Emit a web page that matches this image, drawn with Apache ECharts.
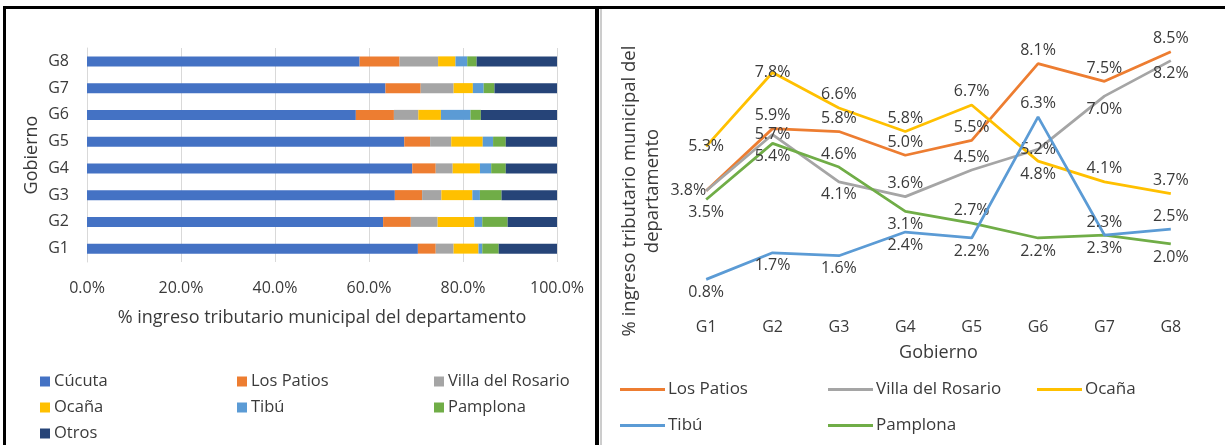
<!DOCTYPE html>
<html>
<head>
<meta charset="utf-8">
<script src="https://cdn.jsdelivr.net/npm/echarts@6/dist/echarts.min.js"></script>
<style>
  html, body { margin: 0; padding: 0; background: #fff; }
  #chart { width: 1225px; height: 445px; }
</style>
</head>
<body>
<div id="chart"></div>
<script>
// Governments (periods) on both panels
const categories = ['G1', 'G2', 'G3', 'G4', 'G5', 'G6', 'G7', 'G8'];

// Share of the department's municipal tax revenue, in percent
const cucuta       = [70.4, 63.0, 65.5, 69.2, 67.5, 57.2, 63.5, 58.0];
const losPatios    = [3.8, 5.9, 5.8, 5.0, 5.5, 8.1, 7.5, 8.5];
const villaRosario = [3.8, 5.7, 4.1, 3.6, 4.5, 5.2, 7.0, 8.2];
const ocana        = [5.3, 7.8, 6.6, 5.8, 6.7, 4.8, 4.1, 3.7];
const tibu         = [0.8, 1.7, 1.6, 2.4, 2.2, 6.3, 2.3, 2.5];
const pamplona     = [3.5, 5.4, 4.6, 3.1, 2.7, 2.2, 2.3, 2.0];
const otros        = [12.4, 10.5, 11.8, 10.9, 10.9, 16.2, 13.3, 17.1];

// Tick values of the horizontal percentage axis
const pctTicks = [0, 20, 40, 60, 80, 100];

const FONT = 'Open Sans';
const TXT = '#3a3a3a';

const colors = {
  'Cúcuta': '#4472C4',
  'Los Patios': '#ED7D31',
  'Villa del Rosario': '#A5A5A5',
  'Ocaña': '#FFC000',
  'Tibú': '#5B9BD5',
  'Pamplona': '#70AD47',
  'Otros': '#264478'
};

const barSeriesData = [
  ['Cúcuta', cucuta],
  ['Los Patios', losPatios],
  ['Villa del Rosario', villaRosario],
  ['Ocaña', ocana],
  ['Tibú', tibu],
  ['Pamplona', pamplona],
  ['Otros', otros]
];

const lineSeriesData = [
  ['Los Patios', losPatios],
  ['Villa del Rosario', villaRosario],
  ['Ocaña', ocana],
  ['Tibú', tibu],
  ['Pamplona', pamplona]
];

// Where each value label sits around its point (null = no label)
const labelPlacement = {
  'Los Patios':        ['left', 'top', 'top', 'top', 'top', 'top', 'top', 'top'],
  'Villa del Rosario': [null, 'inside', 'bottom', 'top', 'top', 'inside', 'bottom', 'bottom'],
  'Ocaña':             ['inside', 'inside', 'top', 'top', 'top', 'bottom', 'top', 'top'],
  'Tibú':              ['bottom', 'bottom', 'bottom', 'bottom', 'bottom', 'top', 'top', 'top'],
  'Pamplona':          ['bottom', 'bottom', 'top', 'bottom', 'top', 'bottom', 'bottom', 'bottom']
};

const bars = barSeriesData.map(([name, values]) => ({
  name: name,
  type: 'bar',
  stack: 'total',
  xAxisIndex: 0,
  yAxisIndex: 0,
  barWidth: 10,
  itemStyle: { color: colors[name] },
  emphasis: { disabled: true },
  data: values
}));

const lines = lineSeriesData.map(([name, values]) => ({
  name: name,
  type: 'line',
  xAxisIndex: 1,
  yAxisIndex: 1,
  symbol: 'circle',
  symbolSize: 0.1,
  showSymbol: true,
  itemStyle: { color: colors[name] },
  lineStyle: { color: colors[name], width: 2.75 },
  emphasis: { disabled: true },
  z: name === 'Tibú' ? 3 : 2,
  data: values.map((v, i) => {
    const pos = labelPlacement[name][i];
    return {
      value: v,
      label: pos
        ? { show: true, position: pos, distance: pos === 'left' ? 0 : 5 }
        : { show: false }
    };
  }),
  label: {
    fontFamily: FONT,
    fontSize: 16,
    color: TXT,
    formatter: p => p.value.toFixed(1) + '%'
  }
}));

// Legend entries: left panel squares, right panel short lines
const leftLegendSlots = [
  ['Cúcuta', 40, 373], ['Los Patios', 237, 373], ['Villa del Rosario', 434, 373],
  ['Ocaña', 40, 399], ['Tibú', 237, 399], ['Pamplona', 434, 399],
  ['Otros', 40, 425]
];
const rightLegendSlots = [
  ['Los Patios', 620, 381], ['Villa del Rosario', 828, 381], ['Ocaña', 1037, 381],
  ['Tibú', 620, 417], ['Pamplona', 828, 417]
];

const legends = leftLegendSlots.map(([name, x, y]) => ({
  data: [name],
  left: x, top: y,
  padding: 0,
  icon: 'rect', itemWidth: 10, itemHeight: 10,
  selectedMode: false,
  textStyle: { fontFamily: FONT, fontSize: 16.5, color: TXT, padding: [0, 0, 0, -1] }
})).concat(rightLegendSlots.map(([name, x, y]) => ({
  data: [name],
  left: x, top: y,
  padding: 0,
  icon: 'rect', itemWidth: 45, itemHeight: 3,
  selectedMode: false,
  textStyle: { fontFamily: FONT, fontSize: 17, color: TXT, padding: [0, 0, 0, -2] }
})));

const option = {
  animation: false,
  backgroundColor: '#ffffff',
  textStyle: { fontFamily: FONT },
  legend: legends,
  grid: [
    { left: 87, right: 668, top: 48, bottom: 183 },
    { left: 673, right: 21, top: 37, bottom: 142 }
  ],
  xAxis: [
    {
      gridIndex: 0,
      type: 'value',
      min: 0, max: 100, interval: 20,
      name: '% ingreso tributario municipal del departamento',
      nameLocation: 'middle',
      nameGap: 47,
      nameTextStyle: { fontFamily: FONT, fontSize: 18, color: TXT },
      axisLine: { show: false },
      axisTick: { show: false },
      axisLabel: {
        margin: 18, fontFamily: FONT, fontSize: 16, color: TXT,
        customValues: pctTicks,
        formatter: v => v.toFixed(1) + '%'
      },
      splitLine: { show: true, lineStyle: { color: '#D9D9D9', width: 1 } }
    },
    {
      gridIndex: 1,
      type: 'category',
      data: categories,
      name: 'Gobierno',
      nameLocation: 'middle',
      nameGap: 41,
      nameTextStyle: { fontFamily: FONT, fontSize: 18, color: TXT },
      axisLine: { show: false },
      axisTick: { show: false },
      axisLabel: { margin: 16, fontFamily: FONT, fontSize: 16, color: TXT },
      splitLine: { show: false }
    }
  ],
  yAxis: [
    {
      gridIndex: 0,
      type: 'category',
      data: categories,
      name: 'Gobierno',
      nameLocation: 'middle',
      nameGap: 46,
      nameRotate: 90,
      nameTextStyle: { fontFamily: FONT, fontSize: 18, color: TXT },
      axisLine: { show: true, lineStyle: { color: '#D9D9D9', width: 1 } },
      axisTick: { show: false },
      axisLabel: { margin: 18, fontFamily: FONT, fontSize: 16, color: TXT }
    },
    {
      gridIndex: 1,
      type: 'value',
      min: 0, max: 9,
      axisLine: { show: false },
      axisTick: { show: false },
      axisLabel: { show: false },
      splitLine: { show: false }
    }
  ],
  series: bars.concat(lines),
  graphic: [
    // panel frames
    { type: 'rect', shape: { x: 3, y: 6, width: 1222, height: 3 }, style: { fill: '#000' }, silent: true },
    { type: 'rect', shape: { x: 3, y: 6, width: 3, height: 439 }, style: { fill: '#000' }, silent: true },
    { type: 'rect', shape: { x: 595, y: 6, width: 4, height: 439 }, style: { fill: '#000' }, silent: true },
    { type: 'line', shape: { x1: 601, y1: 9, x2: 601, y2: 445 }, style: { stroke: '#9a9a9a', lineWidth: 1 }, silent: true },
    // two-line value-axis title of the right panel
    {
      type: 'text',
      x: 641, y: 191,
      rotation: Math.PI / 2,
      style: {
        text: '% ingreso tributario municipal del\ndepartamento',
        fontFamily: FONT, fontSize: 18.5, fill: TXT,
        align: 'center', verticalAlign: 'middle', lineHeight: 23
      },
      silent: true
    }
  ]
};

const chart = echarts.init(document.getElementById('chart'), null, { renderer: 'canvas' });
chart.setOption(option);
</script>
</body>
</html>
